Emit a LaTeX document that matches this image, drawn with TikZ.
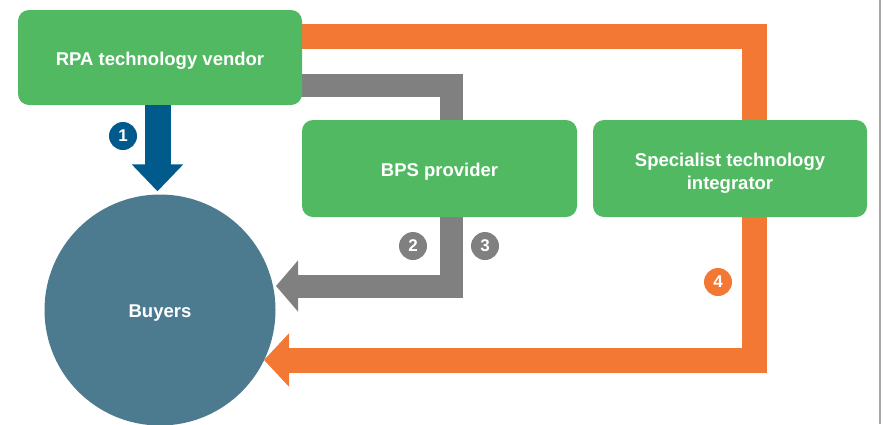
\documentclass[tikz,border=0pt]{standalone}
\usepackage{xcolor}
\usepackage{fontspec}
\setmainfont{Liberation Sans}
\usetikzlibrary{arrows.meta,backgrounds}

\definecolor{partygreen}{RGB}{82,185,99}
\definecolor{buyerblue}{RGB}{76,123,143}
\definecolor{directblue}{RGB}{0,90,140}
\definecolor{bpsgray}{RGB}{128,128,128}
\definecolor{sigorange}{RGB}{242,120,52}

\begin{document}
\begin{tikzpicture}[x=1pt,y=-1pt,
             party/.style={fill=partygreen,rounded corners=11pt,text=white,align=center,inner sep=0pt,
                           text height=15pt,text depth=0pt,font=\fontsize{18.5}{23}\selectfont\bfseries},
             numdot/.style={circle,fill=#1,text=white,minimum size=28pt,inner sep=0pt,
                           font=\fontsize{17}{17}\selectfont\bfseries},
             flow/.style={line width=#1}]
             \useasboundingbox (0,0) rectangle (883,424);

             \node[party,minimum width=284pt,minimum height=95pt] (vendor) at (160,57.5) {RPA technology vendor};
             \node[party,minimum width=275pt,minimum height=97pt] (bps) at (439.5,168.5) {BPS provider};
             \node[party,minimum width=274pt,minimum height=97pt,text height=41.5pt] (integrator) at (730,168.5) {Specialist technology\\integrator};
             \node[circle,fill=buyerblue,minimum size=231pt,text=white,text height=15pt,text depth=0pt,
                   font=\fontsize{18.5}{23}\selectfont\bfseries] (buyers) at (160,310) {Buyers};

             \coordinate (gbend1) at (451,85);
             \coordinate (gbend2) at (451,286);
             \coordinate (gtip) at (276,286);
             \coordinate (obend1) at (754,36);
             \coordinate (obend2) at (754,360);
             \coordinate (otip) at (264,360);

             \begin{scope}[on background layer]
             \draw[bpsgray,flow=23pt,-{Triangle[width=50pt,length=22pt]}]
                  ([xshift=-12pt]vendor.east |- gbend1) -- (gbend1) -- (gbend2) -- (gtip);
             \draw[sigorange,flow=25pt,-{Triangle[width=52pt,length=25pt]}]
                  (vendor.east |- obend1) -- (obend1) -- (obend2) -- (otip);
             \end{scope}

             \draw[directblue,flow=26pt,-{Triangle[width=50pt,length=27pt]}]
                  ([xshift=-2.5pt]vendor.south) -- ([xshift=-2.5pt,yshift=3pt]buyers.north);

             \node[numdot=directblue] (num1) at (123,136) {1};
             \node[numdot=bpsgray] (num2) at (413,246) {2};
             \node[numdot=bpsgray] (num3) at (485,246) {3};
             \node[numdot=sigorange] (num4) at (718,282) {4};

             \draw[gray!70,line width=1.5pt] (880,0) -- (880,424);
             \end{tikzpicture}
\end{document}
